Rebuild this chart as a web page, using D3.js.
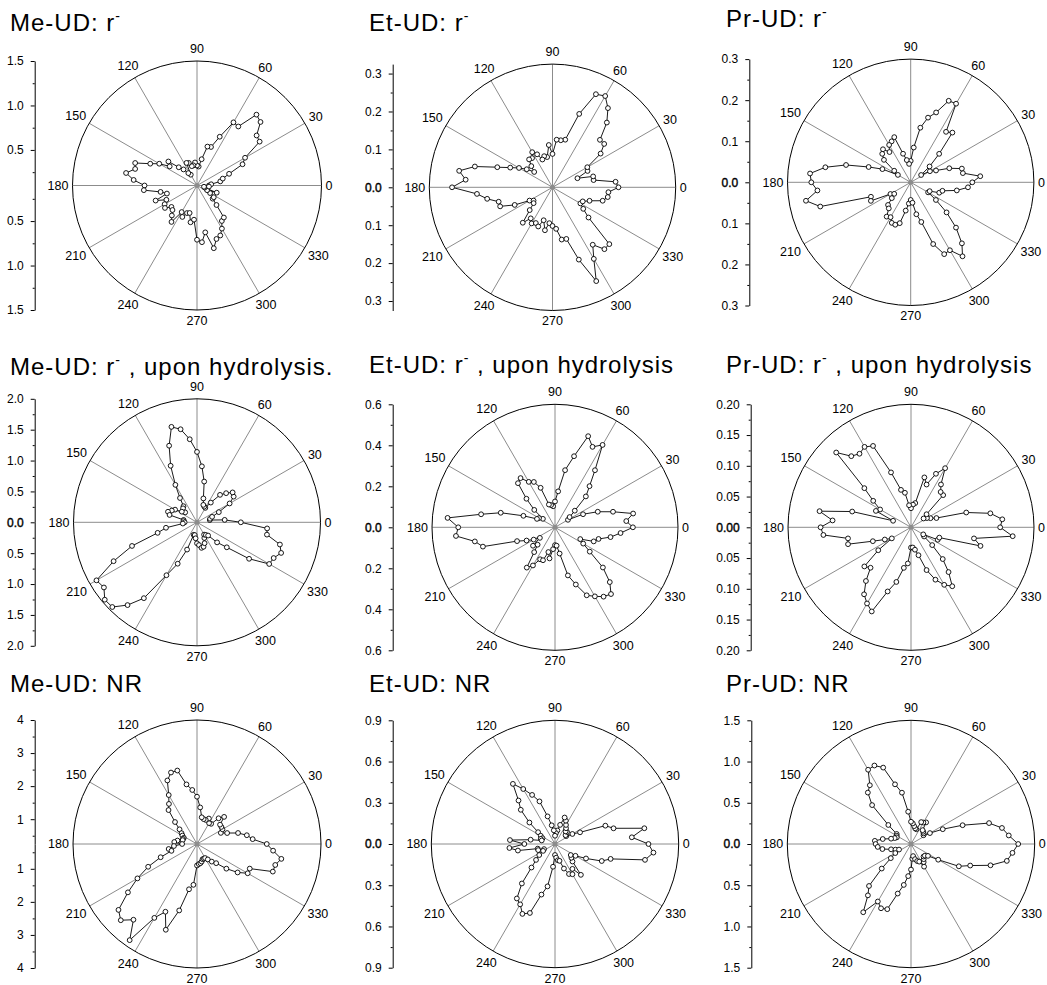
<!DOCTYPE html>
<html>
<head>
<meta charset="utf-8">
<script src="https://cdn.jsdelivr.net/npm/d3@7"></script>
<style>
body {
  margin: 0;
  background-color: white;
}
svg text {
  font-family: "Liberation Sans", Arial, sans-serif;
  fill: black;
}
.axis path,
.axis line {
  fill: none;
  stroke: black;
}
</style>
</head>
<body>
<script>

// angles of the samples (degrees) and of the polar grid
const angles = d3.range(0, 360, 5);
const angleTicks = d3.range(0, 360, 30);

// r values, one per angle in `angles`
const meR = [0.235,0.26,0.366,0.40,0.484,0.665,0.724,0.96,0.975,1.11,1.14,0.91,0.92,0.705,0.561,0.553,0.40,0.314,
  0.325,0.36,0.33,0.325,0.37,0.38,0.24,0.27,0.336,0.39,0.52,0.475,0.59,0.68,0.84,0.82,0.91,0.815,
  0.69,0.70,0.516,0.45,0.595,0.48,0.52,0.54,0.475,0.49,0.54,0.60,0.445,0.49,0.43,0.42,0.52,0.486,
  0.71,0.74,0.635,0.83,0.74,0.72,0.66,0.587,0.57,0.41,0.33,0.33,0.27,0.225,0.336,0.19,0.18,0.235];
const etR = [0.174,0.167,0.110,0.111,0.070,0.102,0.106,0.155,0.178,0.177,0.223,0.255,0.278,0.271,0.206,0.130,0.126,0.126,
  0.088,0.112,0.081,0.085,0.078,0.096,0.107,0.094,0.096,0.079,0.063,0.083,0.102,0.123,0.155,0.212,0.250,0.230,
  0.265,0.200,0.175,0.147,0.147,0.110,0.070,0.061,0.065,0.085,0.122,0.100,0.110,0.104,0.110,0.090,0.115,0.095,
  0.102,0.110,0.140,0.141,0.203,0.273,0.218,0.185,0.213,0.212,0.124,0.099,0.085,0.088,0.104,0.137,0.148,0.148];
const prR = [0.150,0.170,0.129,0.129,0.100,0.068,0.054,0.031,0.060,0.098,0.158,0.150,0.221,0.219,0.181,0.163,0.135,0.085,
  0.052,0.045,0.055,0.072,0.117,0.110,0.105,0.090,0.105,0.098,0.085,0.049,0.036,0.076,0.109,0.163,0.211,0.246,
  0.242,0.228,0.259,0.228,0.103,0.107,0.057,0.049,0.060,0.078,0.083,0.102,0.098,0.109,0.110,0.103,0.070,0.052,
  0.043,0.050,0.079,0.100,0.160,0.193,0.191,0.220,0.194,0.156,0.114,0.075,0.049,0.051,0.074,0.080,0.114,0.140];
const meH = [0.71,0.45,0.21,0.22,0.26,0.39,0.61,0.725,0.753,0.667,0.58,0.39,0.27,0.28,0.30,0.40,0.67,0.91,
  1.14,1.35,1.53,1.60,1.32,1.01,0.70,0.48,0.34,0.32,0.25,0.30,0.41,0.45,0.50,0.46,0.22,0.22,
  0.20,0.23,0.51,0.66,1.12,1.49,1.88,1.84,1.95,1.94,1.75,1.50,0.99,0.74,0.47,0.21,0.21,0.26,
  0.34,0.37,0.42,0.41,0.36,0.28,0.23,0.25,0.28,0.46,0.63,1.03,1.35,1.37,1.45,1.39,1.15,1.14];
const etH = [0.38,0.349,0.387,0.293,0.222,0.151,0.073,0.087,0.126,0.213,0.262,0.340,0.464,0.433,0.473,0.359,0.283,0.176,
  0.126,0.103,0.110,0.115,0.205,0.244,0.256,0.293,0.281,0.197,0.132,0.072,0.090,0.097,0.164,0.274,0.366,0.526,
  0.472,0.485,0.397,0.364,0.197,0.153,0.120,0.090,0.140,0.120,0.158,0.240,0.215,0.172,0.171,0.125,0.154,0.107,
  0.087,0.090,0.130,0.243,0.297,0.366,0.389,0.413,0.425,0.378,0.305,0.207,0.159,0.136,0.201,0.220,0.275,0.321];
const prH = [0.145,0.149,0.131,0.093,0.044,0.035,0.030,0.025,0.033,0.074,0.075,0.085,0.111,0.096,0.074,0.084,0.040,0.037,
  0.031,0.036,0.057,0.063,0.095,0.146,0.151,0.146,0.151,0.172,0.099,0.075,0.058,0.063,0.031,0.099,0.151,0.128,
  0.147,0.143,0.104,0.106,0.066,0.047,0.036,0.065,0.099,0.093,0.114,0.133,0.143,0.151,0.111,0.092,0.067,0.059,
  0.033,0.033,0.037,0.047,0.074,0.094,0.108,0.117,0.095,0.073,0.045,0.026,0.023,0.048,0.049,0.117,0.104,0.166];
const meN = [2.36,1.94,1.78,1.535,1.22,1.045,1.14,1.15,1.16,1.41,1.265,0.995,0.98,1.10,1.025,1.03,1.07,1.36,
  1.68,1.89,2.08,2.55,2.55,2.37,1.96,1.73,1.59,1.19,0.94,0.82,0.76,0.69,0.70,0.70,0.85,0.94,
  0.70,0.95,1.12,1.05,1.42,1.88,2.33,2.80,3.35,3.51,3.24,3.80,2.83,2.51,3.01,2.33,1.64,1.49,
  0.90,0.86,0.84,0.80,0.74,0.74,0.74,0.82,0.945,1.07,1.41,1.75,2.02,2.01,2.69,2.70,2.84,2.56];
const etN = [0.680,0.561,0.660,0.441,0.390,0.201,0.146,0.10,0.10,0.124,0.12,0.14,0.160,0.187,0.205,0.144,0.10,0.08,
  0.06,0.10,0.138,0.208,0.330,0.394,0.462,0.534,0.413,0.352,0.243,0.150,0.12,0.10,0.11,0.10,0.18,0.329,
  0.223,0.333,0.274,0.130,0.13,0.088,0.10,0.14,0.18,0.242,0.375,0.484,0.507,0.561,0.534,0.381,0.313,0.166,
  0.08,0.10,0.12,0.127,0.19,0.241,0.254,0.221,0.293,0.180,0.156,0.14,0.172,0.249,0.362,0.419,0.665,0.719];
const prN = [1.30,1.19,1.12,0.98,0.666,0.425,0.265,0.185,0.20,0.21,0.219,0.32,0.30,0.293,0.19,0.196,0.22,0.25,
  0.27,0.393,0.632,0.749,0.986,1.05,1.04,0.87,0.814,0.667,0.359,0.212,0.20,0.19,0.21,0.25,0.348,0.44,
  0.429,0.405,0.352,0.25,0.20,0.16,0.22,0.299,0.463,0.72,0.813,1.01,0.805,0.86,0.841,0.622,0.504,0.391,
  0.31,0.18,0.149,0.19,0.22,0.236,0.317,0.268,0.24,0.215,0.22,0.251,0.381,0.64,0.764,0.998,1.18,1.235];

const panels = [
  {name: "Me-UD", kind: "r", values: meR, rMin: 0.1,  rMax: 1.5,   ticks: [0.5, 1.0, 1.5], fmt: ".1f",
   cx: 197, cy: 185.5, R: 124.5, axisX: 34.7, tx: 10, ty: 31},
  {name: "Et-UD", kind: "r", values: etR, rMin: 0,    rMax: 0.325, ticks: [0, 0.1, 0.2, 0.3], fmt: ".1f",
   cx: 552.5, cy: 187.3, R: 123.2, axisX: 392.7, tx: 369, ty: 31},
  {name: "Pr-UD", kind: "r", values: prR, rMin: 0,    rMax: 0.3,   ticks: [0, 0.1, 0.2, 0.3], fmt: ".1f",
   cx: 910.7, cy: 182.3, R: 123.2, axisX: 749.3, tx: 726, ty: 27},
  {name: "Me-UD", kind: "h", values: meH, rMin: 0,    rMax: 2.0,   ticks: [0, 0.5, 1.0, 1.5, 2.0], fmt: ".1f",
   cx: 197, cy: 522.3, R: 123.5, axisX: 34.7, tx: 10, ty: 375, dot: true},
  {name: "Et-UD", kind: "h", values: etH, rMin: 0,    rMax: 0.6,   ticks: [0, 0.2, 0.4, 0.6], fmt: ".1f",
   cx: 555, cy: 527.3, R: 123, axisX: 392.7, tx: 369, ty: 373},
  {name: "Pr-UD", kind: "h", values: prH, rMin: 0,    rMax: 0.2,   ticks: [0, 0.05, 0.1, 0.15, 0.2], fmt: ".2f",
   cx: 911, cy: 527.3, R: 123, axisX: 750.7, tx: 726, ty: 373},
  {name: "Me-UD", kind: "n", values: meN, rMin: 0.25, rMax: 4,     ticks: [1, 2, 3, 4], fmt: "d",
   cx: 197, cy: 844, R: 124, axisX: 34.7, tx: 10, ty: 692},
  {name: "Et-UD", kind: "n", values: etN, rMin: 0,    rMax: 0.9,   ticks: [0, 0.3, 0.6, 0.9], fmt: ".1f",
   cx: 555, cy: 844, R: 123.7, axisX: 392.7, tx: 369, ty: 692},
  {name: "Pr-UD", kind: "n", values: prN, rMin: 0,    rMax: 1.5,   ticks: [0, 0.5, 1.0, 1.5], fmt: ".1f",
   cx: 911, cy: 844, R: 123.7, axisX: 751.3, tx: 726, ty: 692}
];

const svg = d3.select("body")
  .append("svg")
  .attr("width", 1047)
  .attr("height", 985);

const rad = a => a * Math.PI / 180;

// distance of an angle label from the centre, so that its box clears the circle
const labelDist = (R, a) => {
  const w = String(a).length * 7;
  const extra = a === 90 ? 3.5 : (a === 270 ? 1.5 : 0);
  return R + 4 + Math.abs(Math.cos(rad(a))) * w / 2 + Math.abs(Math.sin(rad(a))) * 5 + extra;
};

panels.forEach(p => {
  // title
  const t = svg.append("text")
    .attr("x", p.tx)
    .attr("y", p.ty)
    .attr("font-size", 24)
    .attr("letter-spacing", 1);
  if (p.kind === "n") {
    t.text(p.name + ": NR");
  } else {
    t.append("tspan").text(p.name + ": r");
    t.append("tspan").attr("font-size", 14).attr("dy", -10).text("-");
    if (p.kind === "h") {
      t.append("tspan").attr("dy", 10)
        .text(" , upon hydrolysis" + (p.dot ? "." : ""));
    }
  }

  // radial axis on the left, mirrored above and below the centre
  const step = p.ticks[1] - p.ticks[0];
  const minor = d3.range(p.ticks[0] - step / 2, p.rMax, step).filter(v => v > p.rMin);
  const yTop = d3.scaleLinear().domain([p.rMin, p.rMax]).range([p.cy, p.cy - p.R]);
  const yBot = d3.scaleLinear().domain([p.rMin, p.rMax]).range([p.cy, p.cy + p.R]);
  [[yTop, p.ticks], [yBot, p.ticks.filter(v => v > 0)]].forEach(([y, tv]) => {
    const ax = svg.append("g")
      .attr("class", "axis")
      .attr("transform", `translate(${p.axisX}, 0)`)
      .call(d3.axisLeft(y).tickValues(tv).tickSize(4).tickSizeOuter(0)
        .tickPadding(7).tickFormat(d3.format(p.fmt)));
    ax.selectAll("text")
      .attr("font-size", 12)
      .attr("font-family", "Liberation Sans, Arial, sans-serif")
      .attr("stroke", d => d === 0 ? "black" : null)
      .attr("stroke-width", 0.4);
    svg.append("g")
      .attr("class", "axis")
      .attr("transform", `translate(${p.axisX}, 0)`)
      .call(d3.axisLeft(y).tickValues(minor).tickSize(2).tickFormat(""))
      .select(".domain").remove();
  });

  // polar plot
  const g = svg.append("g").attr("transform", `translate(${p.cx}, ${p.cy})`);
  const rs = d3.scaleLinear().domain([p.rMin, p.rMax]).range([0, p.R]);

  g.selectAll(".spoke").data(angleTicks).enter()
    .append("line")
    .attr("x1", 0).attr("y1", 0)
    .attr("x2", a => p.R * Math.cos(rad(a)))
    .attr("y2", a => -p.R * Math.sin(rad(a)))
    .attr("stroke", "#8c8c8c")
    .attr("stroke-width", 1);

  g.append("circle")
    .attr("r", p.R)
    .attr("fill", "none")
    .attr("stroke", "black")
    .attr("stroke-width", 1);

  g.append("circle").attr("r", 2.5).attr("fill", "#8c8c8c");

  g.selectAll(".alabel").data(angleTicks).enter()
    .append("text")
    .attr("font-size", 12.5)
    .attr("text-anchor", "middle")
    .attr("dy", "0.35em")
    .attr("x", a => labelDist(p.R, a) * Math.cos(rad(a)))
    .attr("y", a => -labelDist(p.R, a) * Math.sin(rad(a)))
    .text(a => a);

  const pts = angles.map((a, i) => ({a: a, r: p.values[i]}));

  const line = d3.lineRadial()
    .angle(d => rad(90 - d.a))
    .radius(d => rs(d.r))
    .curve(d3.curveLinearClosed);

  g.append("path")
    .datum(pts)
    .attr("d", line)
    .attr("fill", "none")
    .attr("stroke", "black")
    .attr("stroke-width", 0.9);

  g.selectAll(".pt").data(pts).enter()
    .append("circle")
    .attr("cx", d => rs(d.r) * Math.cos(rad(d.a)))
    .attr("cy", d => -rs(d.r) * Math.sin(rad(d.a)))
    .attr("r", 2.4)
    .attr("fill", "white")
    .attr("stroke", "black")
    .attr("stroke-width", 0.9);
});

</script>
</body>
</html>
